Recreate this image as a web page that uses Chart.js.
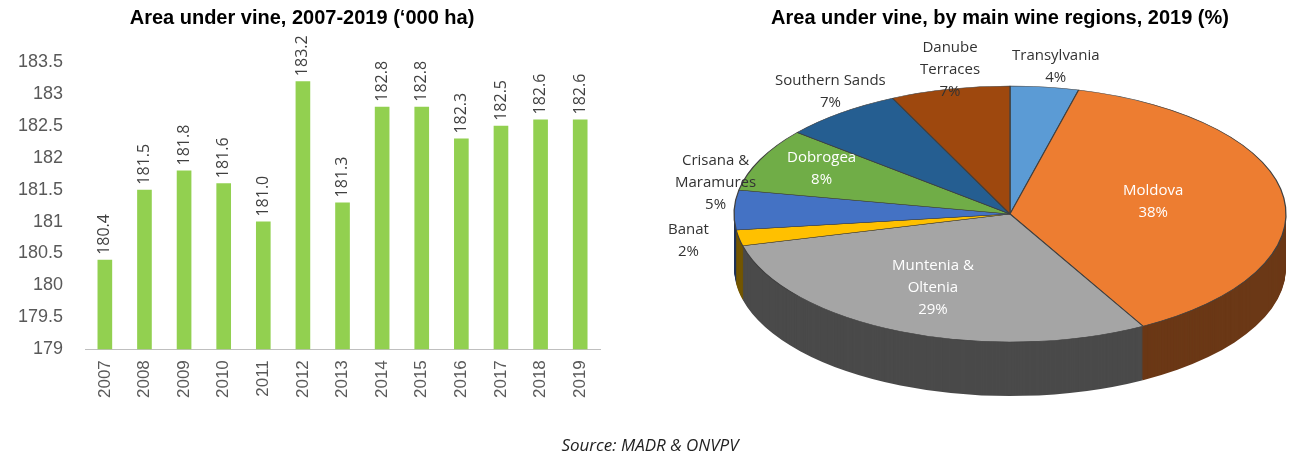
<!DOCTYPE html>
<html>
<head>
<meta charset="utf-8">
<script src="https://cdn.jsdelivr.net/npm/chart.js@4"></script>
<style>
  body { margin: 0; width: 1300px; height: 473px; background: #fff; position: relative; overflow: hidden; font-family: "Open Sans", sans-serif; }
  #barWrap { position: absolute; left: 0; top: 0; width: 620px; height: 473px; }
  #pieWrap { position: absolute; left: 640px; top: 0; width: 720px; height: 473px; }
  #source { position: absolute; left: 0; width: 1300px; top: 433px; text-align: center; font-style: italic; font-size: 17px; color: #222; }
</style>
</head>
<body>
<div id="barWrap"><canvas id="barChart"></canvas></div>
<div id="pieWrap"><canvas id="pieChart"></canvas></div>
<div id="source">Source: MADR &amp; ONVPV</div>
<script>
const years = ["2007", "2008", "2009", "2010", "2011", "2012", "2013", "2014", "2015", "2016", "2017", "2018", "2019"];
const areaValues = [180.4, 181.5, 181.8, 181.6, 181.0, 183.2, 181.3, 182.8, 182.8, 182.3, 182.5, 182.6, 182.6];

const regions = ["Transylvania", "Moldova", "Muntenia & Oltenia", "Banat", "Crisana & Maramures", "Dobrogea", "Southern Sands", "Danube Terraces"];
const regionShares = [4, 38, 29, 2, 5, 8, 7, 7];
const regionColors = ["#5B9BD5", "#ED7D31", "#A5A5A5", "#FFC000", "#4472C4", "#70AD47", "#255E91", "#9E480E"];
// label lines and where they sit (relative to the pie canvas)
const regionLabelLines = [["Transylvania", "4%"], ["Moldova", "38%"], ["Muntenia &", "Oltenia", "29%"], ["Banat", "2%"], ["Crisana &", "Maramures", "5%"], ["Dobrogea", "8%"], ["Southern Sands", "7%"], ["Danube", "Terraces", "7%"]];
const regionLabelPos = [[372, 58], [483, 193], [252, 268], [28, 232], [35, 163], [147, 160], [135, 83], [280, 50]];
const regionLabelColor = ["#333", "#fff", "#fff", "#333", "#333", "#fff", "#333", "#333"];

// Bar chart
const barLabels = {
  id: "barLabels",
  afterDatasetsDraw(chart) {
    const ctx = chart.ctx;
    const meta = chart.getDatasetMeta(0);
    ctx.save();
    ctx.font = "16px 'Open Sans'";
    ctx.fillStyle = "#404040";
    ctx.textAlign = "left";
    ctx.textBaseline = "middle";
    meta.data.forEach((bar, i) => {
      ctx.save();
      ctx.translate(bar.x, bar.y - 5);
      ctx.rotate(-Math.PI / 2);
      ctx.fillText(areaValues[i].toFixed(1), 0, 0);
      ctx.restore();
    });
    ctx.restore();
  }
};

new Chart(document.getElementById("barChart"), {
  type: "bar",
  data: {
    labels: years,
    datasets: [{ data: areaValues, backgroundColor: "#92D050", barPercentage: 0.37, categoryPercentage: 1 }]
  },
  options: {
    responsive: true,
    maintainAspectRatio: false,
    animation: false,
    layout: { padding: { left: 4, right: 20, top: 0, bottom: 72 } },
    plugins: {
      legend: { display: false },
      tooltip: { enabled: false },
      title: {
        display: true,
        text: "Area under vine, 2007-2019 (‘000 ha)",
        font: { family: "Arial", size: 20, weight: "bold" },
        color: "#000",
        padding: { top: 6, bottom: 32 }
      }
    },
    scales: {
      y: {
        min: 179, max: 183.5,
        ticks: { stepSize: 0.5, color: "#595959", font: { size: 18 }, padding: 14, callback: v => String(v) },
        grid: { display: false },
        border: { display: false }
      },
      x: {
        ticks: { color: "#595959", font: { size: 17 }, minRotation: 90, maxRotation: 90 },
        grid: { display: false },
        border: { color: "#BFBFBF" }
      }
    }
  },
  plugins: [barLabels]
});

// Pie chart with a 3D look: top face squashed into an ellipse, plus a darkened side
const cx = 370, cy = 214, rx = 276, ry = 128, depth = 54;

function darken(hex, f) {
  const n = parseInt(hex.slice(1), 16);
  const r = Math.round(((n >> 16) & 255) * f), g = Math.round(((n >> 8) & 255) * f), b = Math.round((n & 255) * f);
  return `rgb(${r},${g},${b})`;
}

const pie3d = {
  id: "pie3d",
  beforeDatasetsDraw(chart) {
    const ctx = chart.ctx;
    const meta = chart.getDatasetMeta(0);
    const arc0 = meta.data[0];
    const toEllipse = (dy) => {
      ctx.translate(cx, cy + dy);
      ctx.scale(rx / arc0.outerRadius, ry / arc0.outerRadius);
      ctx.translate(-arc0.x, -arc0.y);
    };
    // side walls
    for (let d = depth; d > 0; d--) {
      ctx.save();
      toEllipse(d);
      meta.data.forEach((arc, i) => {
        const o = arc.options;
        const bg = o.backgroundColor, bw = o.borderWidth;
        o.backgroundColor = darken(regionColors[i], 0.45);
        o.borderWidth = 0;
        arc.draw(ctx);
        o.backgroundColor = bg;
        o.borderWidth = bw;
      });
      ctx.restore();
    }
    // top face
    ctx.save();
    toEllipse(0);
    meta.data.forEach(arc => arc.draw(ctx));
    ctx.restore();
    return false;
  },
  afterDraw(chart) {
    const ctx = chart.ctx;
    ctx.save();
    ctx.font = "15px 'Open Sans'";
    ctx.textAlign = "center";
    ctx.textBaseline = "top";
    regionLabelLines.forEach((lines, i) => {
      const [lx, ly] = regionLabelPos[i];
      ctx.fillStyle = regionLabelColor[i];
      const w = Math.max(...lines.map(l => ctx.measureText(l).width));
      lines.forEach((l, k) => ctx.fillText(l, lx + w / 2, ly - 10 + k * 22));
    });
    ctx.restore();
  }
};

new Chart(document.getElementById("pieChart"), {
  type: "pie",
  data: {
    labels: regions,
    datasets: [{ data: regionShares, backgroundColor: regionColors, borderColor: "#404040", borderWidth: 1 }]
  },
  options: {
    responsive: true,
    maintainAspectRatio: false,
    animation: false,
    plugins: {
      legend: { display: false },
      tooltip: { enabled: false },
      title: {
        display: true,
        text: "Area under vine, by main wine regions, 2019 (%)",
        font: { family: "Arial", size: 20, weight: "bold" },
        color: "#000",
        padding: { top: 6, bottom: 10 }
      }
    }
  },
  plugins: [pie3d]
});
</script>
</body>
</html>
